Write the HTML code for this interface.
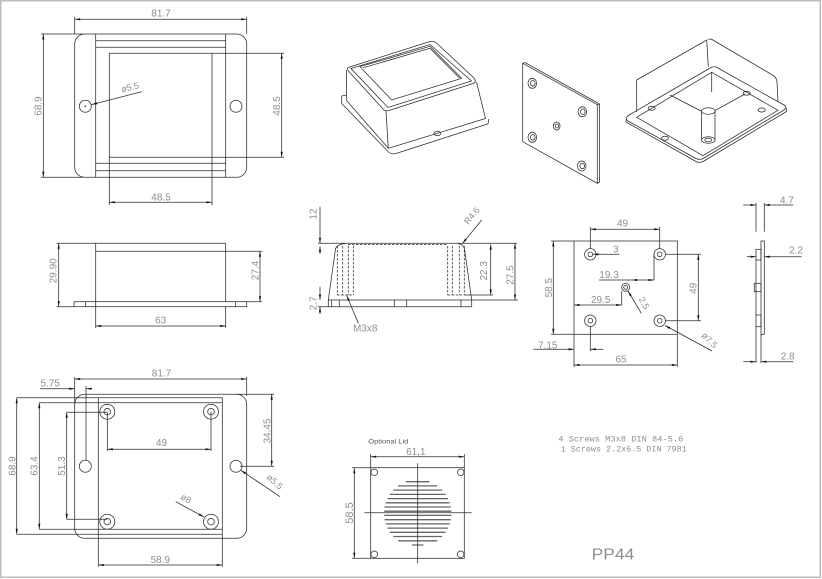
<!DOCTYPE html>
<html><head><meta charset="utf-8">
<style>
html,body{margin:0;padding:0;background:#fff;}
svg{display:block}
.l{stroke:#2a2a2a;stroke-width:0.75;fill:none}
.h{stroke-dasharray:2.5 1.5}
.d{marker-start:url(#a);marker-end:url(#a)}
.e{marker-end:url(#a)}
.s{marker-start:url(#a)}
text{font-family:"Liberation Sans",sans-serif;font-size:10px;fill:#8e8e8e;stroke:none}
.g{stroke:#666;stroke-width:1.3}
</style></head><body>
<svg width="822" height="579" viewBox="0 0 822 579" xmlns="http://www.w3.org/2000/svg">
<defs><marker id="a" viewBox="0 0 10 4" refX="10" refY="2" markerWidth="6" markerHeight="2.2" markerUnits="userSpaceOnUse" orient="auto-start-reverse"><path d="M0,0L10,2L0,4z" fill="#111" stroke="none"/></marker></defs>
<rect x="0.75" y="0.75" width="819.5" height="576.5" fill="none" stroke="#bdbdbd" stroke-width="1.5"/>

<g class="l">
<!-- View 1: top view -->
<rect x="74.7" y="34" width="172" height="143.3" rx="10"/>
<path d="M95.7 34V177.3M225.7 34V177.3M95.7 40.7H225.7M95.7 47.3H225.7M95.7 163.3H225.7M95.7 170.7H225.7"/>
<path d="M109.3 53.3H284M109.3 157.3H284M109.3 53.3V205M212 53.3V205"/>
<circle cx="85.3" cy="106.3" r="6"/><circle cx="236" cy="106.3" r="6"/>
<circle cx="85.3" cy="106.3" r="0.4"/>
<path d="M74.7 17V34M246.7 17V34M41 34H84M41 177.3H84"/>
<line class="d" x1="74.7" y1="19.3" x2="246.7" y2="19.3"/>
<line class="d" x1="43.3" y1="34" x2="43.3" y2="177.3"/>
<line class="d" x1="281.7" y1="53.3" x2="281.7" y2="157.3"/>
<line class="d" x1="109.3" y1="202.3" x2="212" y2="202.3"/>
<line class="e" x1="141.7" y1="91.7" x2="91.6" y2="104.6"/>
<text x="161" y="16.7" text-anchor="middle">81.7</text>
<text transform="translate(41.5,106) rotate(-90)" text-anchor="middle">68.9</text>
<text transform="translate(280,106) rotate(-90)" text-anchor="middle">48.5</text>
<text x="161" y="200.5" text-anchor="middle">48.5</text>
<text transform="translate(122,92.5) rotate(-14)" style="font-size:9px">ø5.5</text>

<!-- View 2: side view -->
<path d="M56.7 243.3H225.7M95.7 243.3V306.7M225.7 243.3V301.7M95.7 251.3H262"/>
<rect x="74" y="301.7" width="172.7" height="5"/>
<path d="M85.7 301.7V306.7M235.7 301.7V306.7M56.7 306.7H74M246.7 301.7H262M95.7 306.7V328M225.7 306.7V328"/>
<line class="d" x1="58.7" y1="243.3" x2="58.7" y2="306.7"/>
<line class="d" x1="260" y1="251.3" x2="260" y2="301.7"/>
<line class="d" x1="95.7" y1="326" x2="225.7" y2="326"/>
<text transform="translate(56.5,270.8) rotate(-90)" text-anchor="middle">29.90</text>
<text transform="translate(258.3,270.5) rotate(-90)" text-anchor="middle">27.4</text>
<text x="160.7" y="323.5" text-anchor="middle">63</text>

<!-- View 3: bottom view -->
<rect x="74.7" y="394.3" width="172" height="144" rx="10"/>
<path d="M98.3 397.7V566.7M222.3 397.7V566.7M16.7 397.7H222.7M39.3 402.7H222.7M39.3 529.3H222.7M16.7 534.3H222.7M66.7 412.3H107.3M66.7 519.3H107.3"/>
<line class="d" x1="16.7" y1="397.7" x2="16.7" y2="534.3"/>
<line class="d" x1="39.3" y1="402.7" x2="39.3" y2="529.3"/>
<line class="d" x1="66.7" y1="412.3" x2="66.7" y2="519.3"/>
<path d="M74.7 377V404M246.7 377V396"/>
<line class="d" x1="74.7" y1="379" x2="246.7" y2="379"/>
<line class="e" x1="40" y1="388.7" x2="74.7" y2="388.7"/>
<line class="e" x1="92" y1="388.7" x2="86" y2="388.7"/>
<path d="M86 386V460"/>
<circle cx="85.3" cy="466.3" r="6"/><circle cx="236" cy="466.3" r="6"/>
<circle cx="107.3" cy="411.7" r="7.5"/><circle cx="107.3" cy="411.7" r="3.3"/>
<circle cx="211" cy="411.7" r="7.5"/><circle cx="211" cy="411.7" r="3.3"/>
<circle cx="107.3" cy="521.7" r="7.5"/><circle cx="107.3" cy="521.7" r="3.3"/>
<circle cx="211" cy="521.7" r="7.5"/><circle cx="211" cy="521.7" r="3.3"/>
<path d="M107.3 411.7V451M211 411.7V451"/>
<line class="d" x1="107.3" y1="449.3" x2="211" y2="449.3"/>
<path d="M236 394.3H274M240 466.3H274"/>
<line class="d" x1="271.7" y1="394.3" x2="271.7" y2="466.3"/>
<line class="e" x1="280" y1="496.7" x2="240.8" y2="470.2"/>
<line class="e" x1="175.7" y1="501.7" x2="204" y2="517"/>
<line class="d" x1="98.3" y1="565" x2="222.3" y2="565"/>
<text x="161.5" y="376.7" text-anchor="middle">81.7</text>
<text x="40.5" y="386.7">5.75</text>
<text x="161.5" y="446" text-anchor="middle">49</text>
<text x="160.3" y="563" text-anchor="middle">58.9</text>
<text transform="translate(15.5,466) rotate(-90)" text-anchor="middle">68.9</text>
<text transform="translate(37.5,466) rotate(-90)" text-anchor="middle">63.4</text>
<text transform="translate(65,466) rotate(-90)" text-anchor="middle">51.3</text>
<text transform="translate(270.5,431) rotate(-90)" text-anchor="middle">34.45</text>
<text transform="translate(266,478) rotate(42)" style="font-size:9px">ø5.5</text>
<text transform="translate(180,498.5) rotate(30)" style="font-size:9px">ø8</text>

<!-- View 4: section -->
<path d="M318 243.3H517"/>
<path class="h" d="M348 244.6H448"/>
<path d="M345 243.8Q337 244 335.5 249L328.3 300M458 243.8Q463 244 464.5 249L471.7 300"/>
<path class="h" d="M337.3 246V295M342.7 246V295M348.3 246V295M353.3 246V295M447.7 246V295M452.3 246V295M459.3 246V295M464.3 246V295M337.3 295H353.3M447.7 295H464.3"/>
<path d="M328.3 300H471.7M318 306.7H471.7M471.7 300V306.7M328.3 300V306.7M331.7 300V306.7M339.3 300V306.7M394.3 300V306.7M406.7 300V306.7M461 300V306.7"/>
<line class="e" x1="320" y1="206.7" x2="320" y2="243.3"/>
<line class="s" x1="320" y1="246.5" x2="320" y2="254"/>
<line class="e" x1="320" y1="286.7" x2="320" y2="300"/>
<line class="s" x1="320" y1="306.7" x2="320" y2="314"/>
<line class="d" x1="490.7" y1="244.3" x2="490.7" y2="295"/>
<path d="M464.3 295H493"/>
<line class="d" x1="515" y1="243.3" x2="515" y2="300"/>
<path d="M471.7 300H518"/>
<line class="e" x1="481.7" y1="220" x2="462.5" y2="243.5"/>
<line class="e" x1="358.3" y1="323.3" x2="346.7" y2="295.5"/>
<text transform="translate(316.5,214) rotate(-90)" text-anchor="middle">12</text>
<text transform="translate(316.5,303.3) rotate(-90)" text-anchor="middle">2.7</text>
<text transform="translate(487,270.8) rotate(-90)" text-anchor="middle">22.3</text>
<text transform="translate(513.5,275) rotate(-90)" text-anchor="middle">27.5</text>
<text transform="translate(468,225) rotate(-50)" style="font-size:9px">R4.6</text>
<text x="353" y="331.7">M3x8</text>

<!-- View 5: plate drawing -->
<rect x="574" y="241" width="103.3" height="93.3"/>
<path d="M574 334.3V367M677.3 334.3V367"/>
<circle cx="590.3" cy="254.3" r="5.7"/><circle cx="590.3" cy="254.3" r="2.3"/>
<circle cx="659.7" cy="254.3" r="5.7"/><circle cx="659.7" cy="254.3" r="2.3"/>
<circle cx="590.3" cy="320.7" r="5.7"/><circle cx="590.3" cy="320.7" r="2.3"/>
<circle cx="659.7" cy="320.7" r="5.7"/><circle cx="659.7" cy="320.7" r="2.3"/>
<circle cx="625.7" cy="287.3" r="4"/><circle cx="625.7" cy="287.3" r="2"/>
<line class="d" x1="590.3" y1="229.3" x2="659.7" y2="229.3"/>
<path d="M590.3 227V249M659.7 227V249"/>
<line class="e" x1="619.3" y1="254.3" x2="593" y2="254.3"/>
<path d="M599 280H631.7M654 280V254.5"/>
<line class="d" x1="631.7" y1="280" x2="654" y2="280"/>
<line class="d" x1="574" y1="305" x2="621.7" y2="305"/>
<path d="M621.7 305V291"/>
<line class="e" x1="641.3" y1="313.3" x2="628" y2="291"/>
<line class="d" x1="698.3" y1="254.3" x2="698.3" y2="320.7"/>
<path d="M665 254.3H701M665 320.7H701"/>
<line class="e" x1="712" y1="351" x2="665" y2="325.5"/>
<line class="d" x1="553.3" y1="241" x2="553.3" y2="334.3"/>
<path d="M551 241H574M551 334.3H574"/>
<line class="e" x1="533.3" y1="349.3" x2="574" y2="349.3"/>
<line class="e" x1="603.3" y1="349.3" x2="590.3" y2="349.3"/>
<path d="M590.3 326V351"/>
<line class="d" x1="574" y1="365" x2="677.3" y2="365"/>
<text x="622.5" y="226.7" text-anchor="middle">49</text>
<text x="613" y="252.5">3</text>
<text x="599.3" y="278">19.3</text>
<text x="591" y="303">29.5</text>
<text transform="translate(638.5,299) rotate(62)" style="font-size:9px">2.5</text>
<text transform="translate(552,287.7) rotate(-90)" text-anchor="middle">58.5</text>
<text transform="translate(696.5,288.3) rotate(-90)" text-anchor="middle">49</text>
<text transform="translate(701,336) rotate(45)" style="font-size:9px">ø7.5</text>
<text x="538" y="348.3">7.15</text>
<text x="621" y="362.5" text-anchor="middle">65</text>

<!-- View 6: plate side -->
<rect x="761" y="241" width="3.3" height="93.3"/>
<rect x="756" y="249.3" width="5" height="10.7"/>
<rect x="754.3" y="283.3" width="6.7" height="8.4"/>
<rect x="756" y="315" width="5" height="11.7"/>
<path d="M756 260V315M756 326.7V363M761 334.3V363M756 203V231.7M764.3 203V231.7"/>
<line class="e" x1="743.3" y1="205" x2="756" y2="205"/>
<line class="e" x1="793.3" y1="205" x2="764.3" y2="205"/>
<line class="e" x1="746.7" y1="256.7" x2="756" y2="256.7"/>
<line class="e" x1="801.7" y1="256.7" x2="764.3" y2="256.7"/>
<line class="e" x1="743.3" y1="361.7" x2="756" y2="361.7"/>
<line class="e" x1="793.3" y1="361.7" x2="761" y2="361.7"/>
<text x="780" y="203.3">4.7</text>
<text x="789" y="253.3">2.2</text>
<text x="780.7" y="359.3">2.8</text>

<!-- Iso A: closed box -->
<path d="M348 67.5L430 41.5Q434 40.5 437 43.5L474 78Q477 82 473 83.5L389 110.5Q385 111.5 383 109L348.5 71Q346.5 68.5 348 67.5Z"/>
<path d="M351 68.5L430 44.5L471.5 81L388 107.5Z"/>
<path d="M360 66.7L430 46.3L461.7 78.3L391.7 100Z"/>
<path d="M363 67.8L430 48.3L459.5 78"/>
<path d="M346.5 70V100.5L388.3 148.3L485.5 118.5L476.5 82M386 111L388.3 148.3"/>
<path d="M346.5 95L341.7 96V103.5L389 152.5Q392 154.5 396 153.5L487.5 124Q489 123 488.5 119"/>
<ellipse cx="437.3" cy="133.5" rx="3.3" ry="2.2"/>

<!-- Iso B: plate -->
<path d="M522.7 63.3L597.3 104.7V183.3L522.7 141.7Z"/>
<path d="M522.7 63.3L525 62.5L599.5 104V182L597.3 183.3M597.3 104.7L599.5 104"/>
<ellipse cx="532.3" cy="83.3" rx="4.3" ry="5"/><ellipse cx="532.8" cy="83.3" rx="2.3" ry="2.8"/>
<ellipse cx="582.3" cy="111.7" rx="4.3" ry="5"/><ellipse cx="582.8" cy="111.7" rx="2.3" ry="2.8"/>
<ellipse cx="532.3" cy="137.3" rx="4.3" ry="5"/><ellipse cx="532.8" cy="137.3" rx="2.3" ry="2.8"/>
<ellipse cx="581.7" cy="166" rx="4.3" ry="5"/><ellipse cx="582.2" cy="166" rx="2.3" ry="2.8"/>
<ellipse cx="556.7" cy="126" rx="3.3" ry="4"/><ellipse cx="557" cy="126" rx="1.7" ry="2"/>

<!-- Iso C: open box -->
<path d="M636.7 112V80L706.7 40L708.3 66.7M708.3 39.5Q710 38.5 712 39.5L773.3 75.5Q776.5 77.5 777 82L778 102"/>
<path d="M630 114.5L711 67.5Q714 66 717 67.5L784 105Q788 107.5 784 110L704 158Q700 160.5 696 158.5L628 121Q624 118 630 114.5Z"/>
<path d="M626 119.5V122L696 161.5Q700 163.5 704 161L786.5 111.5V108.5"/>
<path d="M636.7 117.3L711.7 72.3L778 110.3L703 155.7Z"/>
<path d="M670 95L703 112M713 111.7L745 94M711.7 72.3V92"/>
<ellipse cx="651.7" cy="108.3" rx="3.5" ry="2"/>
<ellipse cx="746.7" cy="93.3" rx="3.5" ry="2"/>
<ellipse cx="665" cy="138.3" rx="3.5" ry="2"/>
<ellipse cx="761.7" cy="110" rx="3.5" ry="2"/>
<path d="M701.6 111V140H715V111Z" fill="#fff"/>
<ellipse cx="708.3" cy="111" rx="6.7" ry="3.3" fill="#fff"/>
<ellipse cx="708.3" cy="140" rx="6.7" ry="3.3" fill="#fff"/>
<ellipse cx="708.3" cy="140" rx="3.5" ry="1.8"/>

<!-- Optional lid -->
<rect x="370.7" y="467.7" width="93.6" height="90.6"/>
<path d="M370.7 454V467.7M464.3 454V467.7M352 467.7H370.7M352 558.3H370.7"/>
<line class="d" x1="370.7" y1="456.7" x2="464.3" y2="456.7"/>
<line class="d" x1="354.3" y1="467.7" x2="354.3" y2="558.3"/>
<circle cx="374.3" cy="472.3" r="3.3"/><circle cx="460.7" cy="472.3" r="3.3"/>
<circle cx="374.3" cy="554.3" r="3.3"/><circle cx="460.7" cy="554.3" r="3.3"/>
<path class="g" d="M406 481.7H429.4M398.1 485.9H437.3M393.3 490.1H442.1M389.8 494.4H445.6M387.4 498.6H448M385.7 502.8H449.7M384.6 507H450.8M384.1 511.2H451.3M384.1 515.4H451.3M384.6 519.7H450.8M385.7 523.9H449.7M387.4 528.1H448M389.9 532.3H445.5M393.3 536.5H442.1M398.2 540.8H437.2M412 545H423.5"/>
<path d="M417.7 463.3V563.3M364.3 512.7H471.7"/>
<text x="368.3" y="443.3" style="font-size:6px;fill:#555" textLength="40" lengthAdjust="spacingAndGlyphs">Optional Lid</text>
<text x="415.8" y="455" text-anchor="middle">61,1</text>
<text transform="translate(353,513) rotate(-90)" text-anchor="middle" style="font-size:11px">58,5</text>

<!-- Notes -->
<text x="558.3" y="441.7" textLength="125" lengthAdjust="spacingAndGlyphs" style="font-family:'Liberation Mono',monospace;font-size:8.5px">4 Screws M3x8 DIN 84-5.6</text>
<text x="560.7" y="451.7" textLength="126" lengthAdjust="spacingAndGlyphs" style="font-family:'Liberation Mono',monospace;font-size:8.5px">1 Screws 2.2x6.5 DIN 7981</text>
<text x="591.7" y="559.3" style="font-size:16px" textLength="42.6" lengthAdjust="spacingAndGlyphs">PP44</text>
</g>
</svg>
</body></html>
